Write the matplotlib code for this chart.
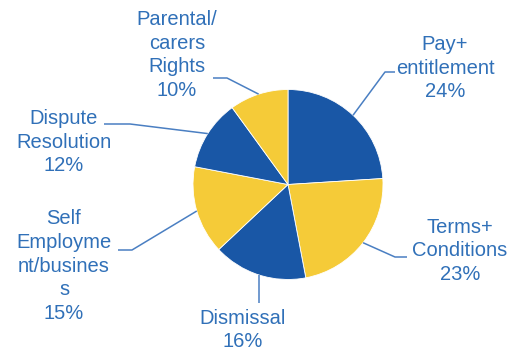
import numpy as np
import matplotlib
matplotlib.use("Agg")
import matplotlib.pyplot as plt

plt.rcParams['font.family'] = ['Liberation Sans', 'DejaVu Sans']

labels = ["Pay+\nentitlement", "Terms+\nConditions", "Dismissal",
          "Self\nEmployme\nnt/busines\ns", "Dispute\nResolution",
          "Parental/\ncarers\nRights"]
shares = [24, 23, 16, 15, 12, 10]

BLUE = "#1957a6"
YELLOW = "#f5cb38"
TEXT = "#3070b8"
LINE = "#4a7fc2"
colors = [BLUE, YELLOW, BLUE, YELLOW, BLUE, YELLOW]

W, H = 511, 355
CX, CY, R = 288, 184.5, 95


def pt(x, y):
    # pixel position (from top-left) -> data coords, pie radius = 1
    return (x - CX) / R, (CY - y) / R


# label centre and leader elbow/end points, in pixels
text_pos = [(445, 68), (460, 251), (243, 330), (64, 266), (64, 142), (177, 55)]
leaders = [
    [(385, 72), (395, 72)],
    [(395, 257), (407, 257)],
    [None],
    [(132, 250), (118, 250)],
    [(130, 124), (104, 124)],
    [(227, 78), (213, 78)],
]

fig = plt.figure(figsize=(W / 100, H / 100), dpi=100)
ax = fig.add_axes([0, 0, 1, 1])

wedges, _ = ax.pie(shares, colors=colors, startangle=90, counterclock=False,
                   radius=1, wedgeprops=dict(linewidth=0.6, edgecolor='white'))

ax.set_xlim(-CX / R, (W - CX) / R)
ax.set_ylim(-(H - CY) / R, CY / R)
ax.set_aspect('auto')
ax.axis('off')

for w, lab, val, tp, pts in zip(wedges, labels, shares, text_pos, leaders):
    mid = np.deg2rad((w.theta1 + w.theta2) / 2)
    ex, ey = np.cos(mid), np.sin(mid)
    xs, ys = [ex], [ey]
    for p in pts:
        if p is None:
            # straight drop below the wedge
            xs.append(ex)
            ys.append(pt(0, 303)[1])
        else:
            px, py = pt(*p)
            xs.append(px)
            ys.append(py)
    ax.plot(xs, ys, color=LINE, lw=1.1, solid_capstyle='butt')
    tx, ty = pt(*tp)
    ax.text(tx, ty, "%s\n%d%%" % (lab, val), ha='center', va='center',
            multialignment='center', fontsize=14.5, color=TEXT, linespacing=1.32)

fig.savefig("out.png", dpi=100)
